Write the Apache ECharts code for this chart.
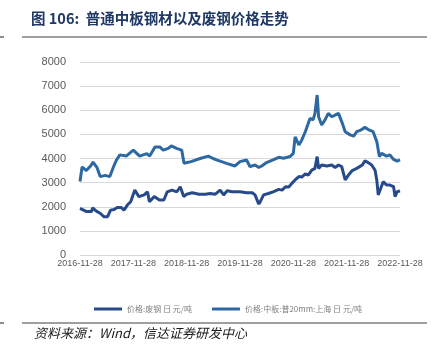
<!DOCTYPE html>
<html>
<head>
<meta charset="utf-8">
<script src="https://cdn.jsdelivr.net/npm/echarts@6/dist/echarts.min.js"></script>
<style>
html,body{margin:0;padding:0;background:#fff;}
#c{width:433px;height:355px;}
</style>
</head>
<body>
<div id="c"></div>
<script>
// ---- data ----
const titleText = '图 106:  普通中板钢材以及废钢价格走势';
const sourceText = '资料来源：Wind，信达证券研发中心';
const seriesNames = ['价格:废钢 日 元/吨', '价格:中板:普20mm:上海 日 元/吨'];
const xTickLabels = ['2016-11-28','2017-11-28','2018-11-28','2019-11-28','2020-11-28','2021-11-28','2022-11-28'];
const yMin = 0, yMax = 8000, yStep = 1000;

// 废钢 (scrap steel)
const scrapDates = ['2016-11-28','2017-01-12','2017-02-15','2017-02-22','2017-03-25','2017-04-15','2017-05-10','2017-06-05','2017-06-25','2017-07-20','2017-08-10','2017-09-05','2017-09-25','2017-10-18','2017-11-10','2017-12-08','2018-01-05','2018-02-10','2018-03-05','2018-03-18','2018-04-20','2018-05-25','2018-06-25','2018-07-18','2018-08-20','2018-09-22','2018-10-15','2018-11-08','2018-11-28','2019-01-05','2019-02-20','2019-04-05','2019-05-08','2019-06-12','2019-07-15','2019-08-08','2019-09-01','2019-10-05','2019-11-28','2020-01-12','2020-02-20','2020-03-10','2020-04-05','2020-04-15','2020-05-08','2020-06-10','2020-07-12','2020-08-20','2020-09-12','2020-10-05','2020-10-28','2020-11-18','2020-12-10','2021-01-05','2021-01-25','2021-02-18','2021-03-10','2021-04-03','2021-04-25','2021-05-10','2021-05-20','2021-06-10','2021-07-15','2021-08-18','2021-09-10','2021-10-03','2021-10-25','2021-11-18','2021-12-10','2022-01-05','2022-02-05','2022-03-15','2022-04-02','2022-04-25','2022-05-18','2022-06-10','2022-06-22','2022-07-02','2022-07-12','2022-08-05','2022-08-28','2022-09-20','2022-10-15','2022-10-25','2022-11-08','2022-11-28'];
const scrapValues = [1930,1800,1800,1950,1800,1730,1590,1590,1860,1890,1970,1970,1860,2070,2210,2690,2420,2490,2620,2210,2420,2280,2280,2620,2690,2620,2830,2420,2520,2580,2520,2520,2550,2520,2690,2490,2660,2620,2620,2580,2580,2490,2110,2210,2490,2550,2620,2720,2690,2830,2820,2970,3110,3250,3230,3360,3310,3520,3590,4080,3590,3730,3690,3730,3630,3730,3660,3110,3310,3500,3590,3730,3900,3830,3730,3520,3110,2490,2550,3040,2900,2900,2830,2420,2620,2660];

// 中板 (medium plate, Shanghai)
const plateDates = ['2016-11-28','2016-12-12','2017-01-10','2017-02-10','2017-02-25','2017-03-25','2017-04-15','2017-05-20','2017-06-20','2017-07-15','2017-08-05','2017-08-28','2017-10-10','2017-11-28','2018-01-10','2018-02-28','2018-03-20','2018-04-25','2018-05-28','2018-06-20','2018-07-25','2018-08-15','2018-09-20','2018-10-25','2018-11-10','2018-12-28','2019-02-28','2019-04-25','2019-05-28','2019-06-20','2019-08-28','2019-10-25','2019-11-28','2020-01-12','2020-02-05','2020-03-10','2020-04-05','2020-04-25','2020-05-28','2020-07-12','2020-08-20','2020-09-22','2020-11-05','2020-11-28','2020-12-10','2021-01-05','2021-01-25','2021-02-18','2021-03-22','2021-04-12','2021-04-25','2021-05-10','2021-05-20','2021-06-10','2021-07-03','2021-07-25','2021-08-18','2021-09-10','2021-10-03','2021-10-25','2021-11-18','2021-12-22','2022-01-15','2022-02-05','2022-03-05','2022-04-02','2022-04-25','2022-05-28','2022-06-10','2022-06-22','2022-07-10','2022-07-25','2022-08-28','2022-09-20','2022-10-15','2022-11-08','2022-11-28'];
const plateValues = [3050,3650,3500,3700,3850,3620,3250,3300,3250,3650,3940,4150,4100,4350,4100,4200,4100,4480,4480,4350,4420,4520,4420,4350,3800,3870,4000,4100,4000,3940,3800,3690,3870,3940,3660,3730,3630,3690,3830,3940,4050,4010,4080,4210,4900,4560,4770,5110,5660,5600,5870,6630,5730,5390,5600,5870,5730,5800,5870,5530,5110,4980,4930,5110,5180,5290,5200,5110,5040,4700,4080,4210,4100,4150,3960,3890,3940];

// ---- chart ----
function ts(s){ const p = s.split('-').map(Number); return Date.UTC(p[0], p[1]-1, p[2]); }
const tickTs = xTickLabels.map(ts);
// position on the axis measured in tick-periods (one period = one year between labels)
function pos(s){
  const t = ts(s);
  for (let i = 0; i < tickTs.length - 1; i++) {
    if (t <= tickTs[i+1]) return i + (t - tickTs[i]) / (tickTs[i+1] - tickTs[i]);
  }
  return tickTs.length - 1;
}
const scrapData = scrapDates.map((d,i)=>[pos(d), scrapValues[i]]);
const plateData = plateDates.map((d,i)=>[pos(d), plateValues[i]]);

const chart = echarts.init(document.getElementById('c'), null, {renderer:'canvas'});
const latin = '"Liberation Sans", Arial, "Noto Sans CJK SC", sans-serif';
const cjk = '"Noto Sans CJK SC", sans-serif';
chart.setOption({
  animation: false,
  backgroundColor: '#fff',
  title: [{
    text: titleText, left: 26, top: 6,
    textStyle: {fontSize: 14.5, fontWeight: 'bold', color: '#1f3864', fontFamily: cjk}
  }, {
    text: sourceText, left: 29, top: 322,
    textStyle: {fontSize: 13, fontWeight: 'normal', fontStyle: 'italic', color: '#1a1a1a', fontFamily: cjk}
  }],
  graphic: [
    {type:'line', shape:{x1:22,y1:37,x2:427,y2:37}, style:{stroke:'#404040', lineWidth:1.2}},
    {type:'line', shape:{x1:0,y1:37,x2:4,y2:37}, style:{stroke:'#404040', lineWidth:1.2}},
    {type:'line', shape:{x1:22,y1:323,x2:427,y2:323}, style:{stroke:'#404040', lineWidth:1.2}},
    {type:'line', shape:{x1:0,y1:323,x2:4,y2:323}, style:{stroke:'#404040', lineWidth:1.2}}
  ],
  legend: {
    left: 89, top: 300, itemWidth: 28, itemHeight: 3, itemGap: 20,
    icon: 'rect',
    textStyle: {fontSize: 8, color: '#7f7f7f', fontFamily: cjk},
    data: seriesNames
  },
  grid: {left: 80, right: 33, top: 62, bottom: 100, containLabel: false},
  xAxis: {
    type: 'value',
    min: 0, max: xTickLabels.length - 1, interval: 1,
    axisLine: {show: true, lineStyle: {color: '#d9d9d9', width: 1}},
    axisTick: {show: false},
    splitLine: {show: false},
    axisLabel: {
      formatter: function(v){ return xTickLabels[Math.round(v)] || ''; },
      fontSize: 9, color: '#595959', fontFamily: latin, margin: 4,
      showMinLabel: true, showMaxLabel: true
    }
  },
  yAxis: {
    type: 'value', min: yMin, max: yMax, interval: yStep,
    axisLine: {show: false}, axisTick: {show: false},
    splitLine: {lineStyle: {color: '#d9d9d9', width: 1}},
    axisLabel: {fontSize: 11, color: '#595959', fontFamily: latin, margin: 14,
      formatter: function(v){ return String(v); }}
  },
  series: [
    {name: seriesNames[0], type: 'line', data: scrapData, showSymbol: false, symbol: 'none',
     lineStyle: {width: 3, color: '#274a8a'}, itemStyle: {color: '#274a8a'}},
    {name: seriesNames[1], type: 'line', data: plateData, showSymbol: false, symbol: 'none',
     lineStyle: {width: 3, color: '#2d68a3'}, itemStyle: {color: '#2d68a3'}}
  ]
});
</script>
</body>
</html>
